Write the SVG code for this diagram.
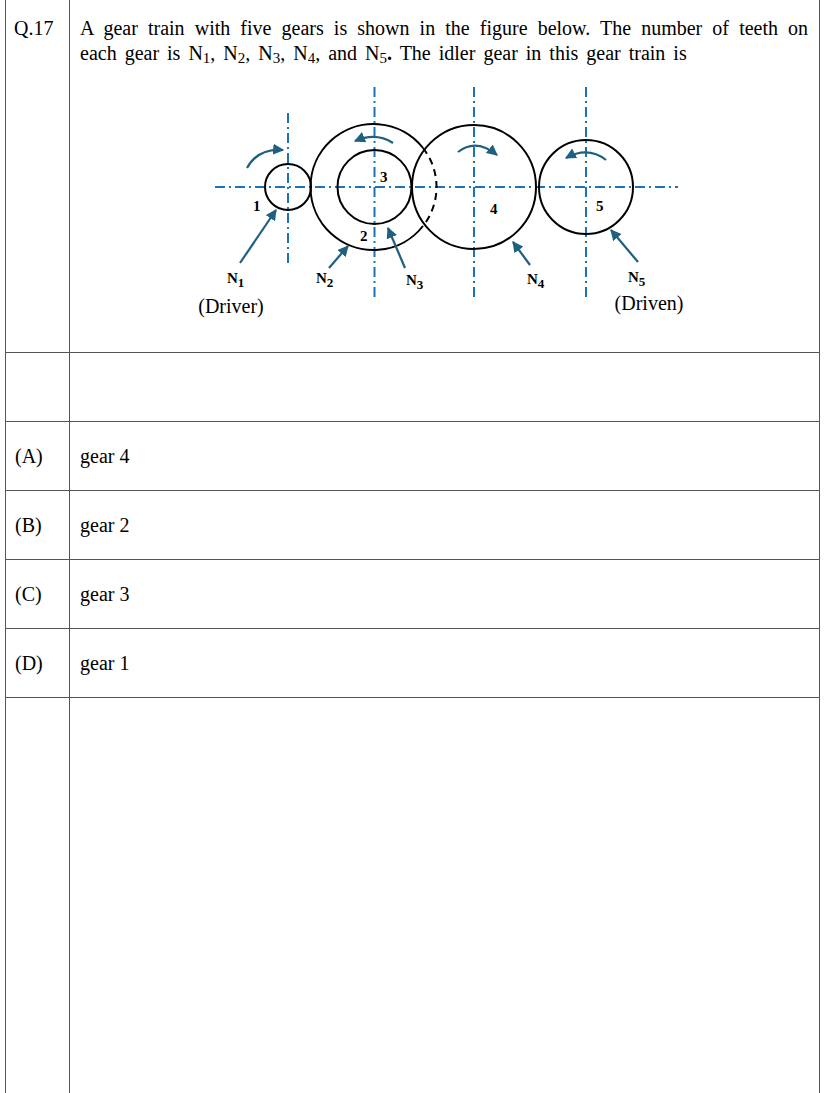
<svg xmlns="http://www.w3.org/2000/svg" width="830" height="1093" viewBox="0 0 830 1093">
<style>
.t{font-family:"Liberation Serif",serif;font-size:20px;fill:#000}
.b{font-family:"Liberation Serif",serif;font-size:15px;font-weight:bold;fill:#000}
.g{fill:none;stroke:#000;stroke-width:2}
.c{stroke:#1a73b8;stroke-width:2;stroke-dasharray:10,4,2,4;fill:none}
.a{stroke:#1f6080;stroke-width:2.2;fill:none}
.grid{stroke:#555;stroke-width:1;fill:none}
</style>
<defs>
<marker id="ah" viewBox="0 0 10 10" refX="9" refY="5" markerWidth="5" markerHeight="5" orient="auto"><path d="M0,0 L10,5 L0,10 z" fill="#1f6080"/></marker>
</defs>
<rect width="830" height="1093" fill="#fff"/>
<g id="table" class="grid">
<rect x="5.5" y="-1" width="814" height="1100"/>
<line x1="69.5" y1="0" x2="69.5" y2="1093"/>
<line x1="5" y1="352.5" x2="820" y2="352.5"/>
<line x1="5" y1="421.5" x2="820" y2="421.5"/>
<line x1="5" y1="490.5" x2="820" y2="490.5"/>
<line x1="5" y1="559.5" x2="820" y2="559.5"/>
<line x1="5" y1="628.5" x2="820" y2="628.5"/>
<line x1="5" y1="697.5" x2="820" y2="697.5"/>
</g>
<g id="question">
<text class="t" x="14" y="35">Q.17</text>
<text class="t" x="80" y="35" word-spacing="5.1">A gear train with five gears is shown in the figure below. The number of teeth on</text>
<text class="t" x="80" y="60" word-spacing="3">each gear is N<tspan font-size="15" dy="3">1</tspan><tspan dy="-3">, N</tspan><tspan font-size="15" dy="3">2</tspan><tspan dy="-3">, N</tspan><tspan font-size="15" dy="3">3</tspan><tspan dy="-3">, N</tspan><tspan font-size="15" dy="3">4</tspan><tspan dy="-3">, and N</tspan><tspan font-size="15" dy="3">5</tspan><tspan dy="-3" font-weight="bold">.</tspan> The idler gear in this gear train is</text>
</g>
<g id="centerlines">
<line class="c" x1="215" y1="187" x2="678" y2="187"/>
<line class="c" x1="288" y1="113" x2="288" y2="263"/>
<line class="c" x1="374.5" y1="87" x2="374.5" y2="297"/>
<line class="c" x1="474" y1="87" x2="474" y2="297"/>
<line class="c" x1="586" y1="87" x2="586" y2="297"/>
</g>
<g id="gear1"><circle class="g" cx="288" cy="187" r="23"/><text class="b" x="253" y="211">1</text></g>
<g id="gear2"><path class="g" d="M423,148 A63,63 0 1 0 423,226"/><path class="g" stroke-dasharray="7,5" d="M423,148 A63,63 0 0 1 423,226"/><text class="b" x="360" y="241">2</text></g>
<g id="gear3"><circle class="g" cx="374.5" cy="187" r="37"/><text class="b" x="380" y="182">3</text></g>
<g id="gear4"><circle class="g" cx="474" cy="187" r="62"/><text class="b" x="490" y="214">4</text></g>
<g id="gear5"><circle class="g" cx="586" cy="187" r="47"/><text class="b" x="596" y="211">5</text></g>
<g id="connectors">
<path class="a" marker-end="url(#ah)" d="M247,168 Q258,148 283,150"/>
<path class="a" marker-end="url(#ah)" d="M393,143 Q376,132 355,141"/>
<path class="a" marker-end="url(#ah)" d="M458,152 Q476,138 497,155"/>
<path class="a" marker-end="url(#ah)" d="M606,160 Q588,146 566,158"/>
<line class="a" marker-end="url(#ah)" x1="240" y1="263" x2="276" y2="210"/>
<line class="a" marker-end="url(#ah)" x1="329" y1="268" x2="348" y2="246"/>
<line class="a" marker-end="url(#ah)" x1="405" y1="268" x2="388" y2="228"/>
<line class="a" marker-end="url(#ah)" x1="530" y1="265" x2="513" y2="242"/>
<line class="a" marker-end="url(#ah)" x1="638" y1="262" x2="611" y2="230"/>
</g>
<g id="labels">
<text class="b" x="227" y="283" font-size="16">N<tspan font-size="13" dy="4">1</tspan></text>
<text class="b" x="316" y="283" font-size="16">N<tspan font-size="13" dy="4">2</tspan></text>
<text class="b" x="406" y="285" font-size="16">N<tspan font-size="13" dy="4">3</tspan></text>
<text class="b" x="527" y="284" font-size="16">N<tspan font-size="13" dy="4">4</tspan></text>
<text class="b" x="628" y="282" font-size="16">N<tspan font-size="13" dy="4">5</tspan></text>
<text class="t" x="231" y="313" font-size="18" text-anchor="middle">(Driver)</text>
<text class="t" x="649" y="310" font-size="18" text-anchor="middle">(Driven)</text>
</g>
<g id="options">
<text class="t" x="15" y="463">(A)</text><text class="t" x="80" y="463">gear 4</text>
<text class="t" x="15" y="532">(B)</text><text class="t" x="80" y="532">gear 2</text>
<text class="t" x="15" y="601">(C)</text><text class="t" x="80" y="601">gear 3</text>
<text class="t" x="15" y="670">(D)</text><text class="t" x="80" y="670">gear 1</text>
</g>
</svg>
